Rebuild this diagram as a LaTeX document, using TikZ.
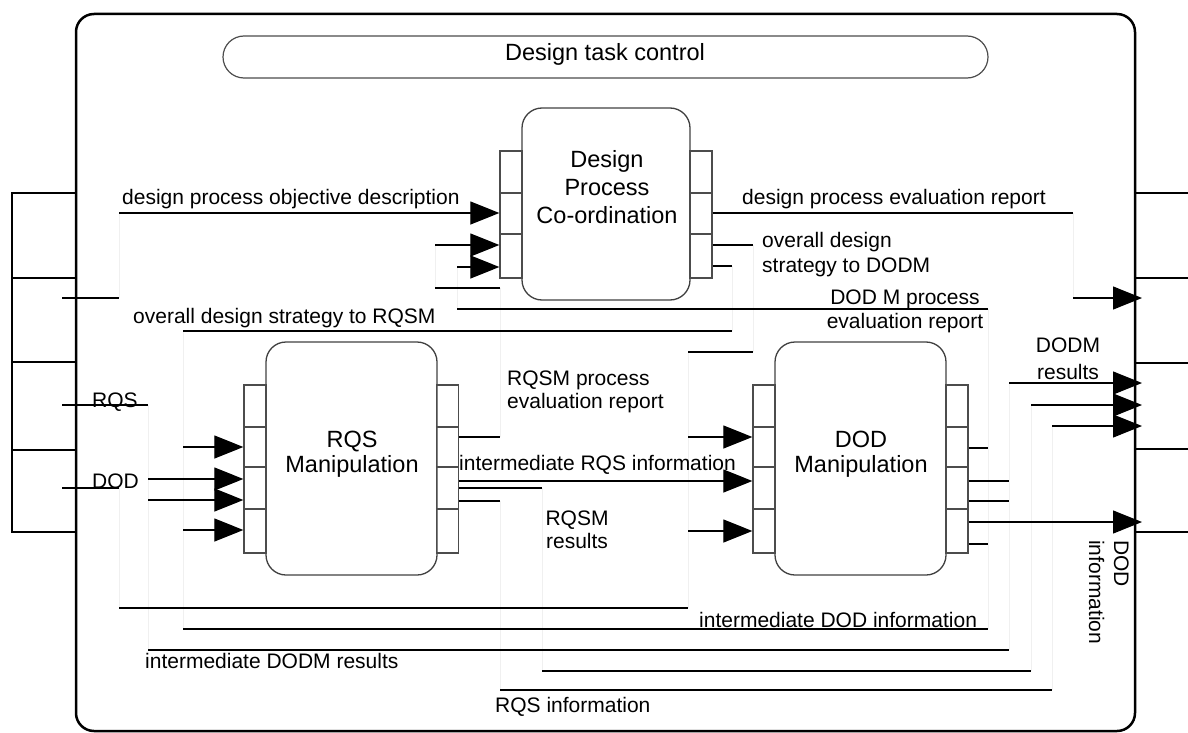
\documentclass[tikz,border=0pt]{standalone}
\usepackage{fontspec}
\setmainfont{Liberation Sans}
\usetikzlibrary{arrows.meta}
\begin{document}
\begin{tikzpicture}[x=1pt,y=-1pt,
  frame/.style={line width=2.5pt,rounded corners=18pt},
  tab/.style={line width=2.5pt},
  proc/.style={draw=black!75,line width=1.3pt,rounded corners=20pt,inner sep=0pt},
  port/.style={draw=black!70,line width=1.3pt,inner sep=0pt,minimum width=22pt},
  conn/.style={line width=1.2pt},
  arr/.style={conn,-{Triangle[length=29pt,width=23pt]}},
  faint/.style={draw=black!6,line width=1pt},
  lbl/.style={inner sep=0pt,font=\fontsize{21}{25}\selectfont},
  big/.style={inner sep=0pt,align=center,anchor=base},
]
\useasboundingbox (0,0) rectangle (1188,733);

% outer frame and tabs
\draw[frame] (76,14) rectangle (1135,731);
\draw[tab] (76,193) -- (12,193) -- (12,532) -- (76,532);
\draw[tab] (12,278) -- (76,278);
\draw[tab] (12,450) -- (76,450);
\draw[line width=1.2pt] (12,362) -- (76,362);
\foreach \yy in {193,278,363,449,532} \draw[tab] (1135,\yy) -- (1195,\yy);

% control bar
\node[draw=black!70,line width=1.2pt,rounded corners=21pt,minimum width=765pt,minimum height=42pt,inner sep=0pt] (ctrl) at (605.5,57) {};
\node[big,font=\fontsize{23.5}{28}\selectfont] (ctrlT) at (605,61) {Design task control};

% process boxes
\node[proc,minimum width=168pt,minimum height=192pt] (dpc) at (606,204) {};
\node[proc,minimum width=171pt,minimum height=233pt] (rqs) at (351.5,458.5) {};
\node[proc,minimum width=171pt,minimum height=233pt] (dod) at (860.5,458.5) {};

\node[big,font=\fontsize{23.5}{28}\selectfont] (dpcT) at (607,223) {Design\\Process\\Co-ordination};
\node[big,font=\fontsize{23.5}{25}\selectfont] (rqsT) at (352,472) {RQS\\Manipulation};
\node[big,font=\fontsize{23.5}{25}\selectfont] (dodT) at (861,472) {DOD\\Manipulation};

% port strips
\node[port,minimum height=127pt] (dpcL) at (511,214.5) {};
\node[port,minimum height=127pt] (dpcR) at (701,214.5) {};
\foreach \p in {dpcL,dpcR}{
  \draw[draw=black!70,line width=1.2pt] (\p.west |- 0,193) -- (\p.east |- 0,193);
  \draw[draw=black!70,line width=1.2pt] (\p.west |- 0,234) -- (\p.east |- 0,234);
}
\node[port,minimum height=168pt] (rqsL) at (255,469) {};
\node[port,minimum height=168pt] (rqsR) at (447.5,469) {};
\node[port,minimum height=168pt] (dodL) at (764,469) {};
\node[port,minimum height=168pt] (dodR) at (957,469) {};
\foreach \p in {rqsL,rqsR,dodL,dodR}{
  \foreach \yy in {427,467,509}
    \draw[draw=black!70,line width=1.2pt] (\p.west |- 0,\yy) -- (\p.east |- 0,\yy);
}

% junction coordinates
\coordinate (tA) at (62,298);   \coordinate (a1) at (119,298);  \coordinate (a2) at (119,213);
\coordinate (tB) at (62,405);   \coordinate (b1) at (148,405);  \coordinate (b2) at (148,650);
\coordinate (b3) at (148,479);  \coordinate (b4) at (148,500);
\coordinate (tC) at (62,488);   \coordinate (c1) at (119,488);  \coordinate (c2) at (119,608);
\coordinate (c3) at (688,608);  \coordinate (c4) at (688,352);  \coordinate (c5) at (753,352);
\coordinate (c6) at (753,245);  \coordinate (c7) at (688,437);  \coordinate (c8) at (688,531);
\coordinate (d1) at (732,266);  \coordinate (d2) at (732,331);  \coordinate (d3) at (183,331);
\coordinate (d4) at (183,629);  \coordinate (d5) at (988,629);  \coordinate (d6) at (183,447);
\coordinate (d7) at (183,530);
\coordinate (e1) at (988,309);  \coordinate (e2) at (457,309);  \coordinate (e3) at (457,267);
\coordinate (e4) at (988,448);  \coordinate (e5) at (988,544);
\coordinate (f1) at (1009,650); \coordinate (f2) at (1009,383); \coordinate (f3) at (1009,481);
\coordinate (f4) at (1009,501);
\coordinate (g1) at (542,488);  \coordinate (g2) at (542,671);  \coordinate (g3) at (1031,671);
\coordinate (g4) at (1031,405);
\coordinate (h1) at (500,501);  \coordinate (h2) at (500,690);  \coordinate (h3) at (1052,690);
\coordinate (h4) at (1052,426);
\coordinate (k1) at (500,437);  \coordinate (k2) at (500,288);  \coordinate (k3) at (435,288);
\coordinate (k4) at (435,245);
\coordinate (m1) at (1073,213); \coordinate (m2) at (1073,298);
\coordinate (o1) at (1142,298); \coordinate (o2) at (1142,383); \coordinate (o3) at (1142,405);
\coordinate (o4) at (1142,426); \coordinate (o5) at (1142,522);

% faint vertical runs
\draw[faint] (a1) -- (a2);
\draw[faint] (b1) -- (b2);
\draw[faint] (c1) -- (c2);
\draw[faint] (c4) -- (c3);
\draw[faint] (c6) -- (c5);
\draw[faint] (d1) -- (d2);
\draw[faint] (d3) -- (d4);
\draw[faint] (e1) -- (d5);
\draw[faint] (e3) -- (e2);
\draw[faint] (f2) -- (f1);
\draw[faint] (g1) -- (g2);
\draw[faint] (g4) -- (g3);
\draw[faint] (h1) -- (h2);
\draw[faint] (h4) -- (h3);
\draw[faint] (k2) -- (k1);
\draw[faint] (k4) -- (k3);
\draw[faint] (m1) -- (m2);

% horizontal connector runs
\draw[conn] (tA) -- (a1);
\draw[arr] (a2) -- (dpcL.west |- a2);
\draw[conn] (tB) -- (b1);
\draw[arr] (b3) -- (rqsL.west |- b3);
\draw[arr] (b4) -- (rqsL.west |- b4);
\draw[conn] (b2) -- (f1);
\draw[conn] (tC) -- (c1);
\draw[conn] (c2) -- (c3);
\draw[conn] (c4) -- (c5);
\draw[conn] (dpcR.east |- c6) -- (c6);
\draw[arr] (c7) -- (dodL.west |- c7);
\draw[arr] (c8) -- (dodL.west |- c8);
\draw[conn] (dpcR.east |- d1) -- (d1);
\draw[conn] (d2) -- (d3);
\draw[arr] (d6) -- (rqsL.west |- d6);
\draw[arr] (d7) -- (rqsL.west |- d7);
\draw[conn] (d4) -- (d5);
\draw[conn] (e1) -- (e2);
\draw[arr] (e3) -- (dpcL.west |- e3);
\draw[conn] (dodR.east |- e4) -- (e4);
\draw[conn] (dodR.east |- e5) -- (e5);
\draw[arr] (f2) -- (o2);
\draw[conn] (dodR.east |- f3) -- (f3);
\draw[conn] (dodR.east |- f4) -- (f4);
\draw[conn] (rqsR.east |- g1) -- (g1);
\draw[conn] (g2) -- (g3);
\draw[arr] (g4) -- (o3);
\draw[conn] (rqsR.east |- h1) -- (h1);
\draw[conn] (h2) -- (h3);
\draw[arr] (h4) -- (o4);
\draw[arr] (dodR.east |- o5) -- (o5);
\draw[conn] (rqsR.east |- k1) -- (k1);
\draw[conn] (k2) -- (k3);
\draw[arr] (k4) -- (dpcL.west |- k4);
\draw[arr] (rqsR.east |- 0,481) -- (dodL.west |- 0,481);
\draw[conn] (dpcR.east |- m1) -- (m1);
\draw[arr] (m2) -- (o1);

% labels
\node[lbl,anchor=base west] (l1) at (122,204) {design process objective description};
\node[lbl,anchor=base west] (l2) at (133,323) {overall design strategy to RQSM};
\node[lbl,anchor=base west] (l3) at (742,204) {design process evaluation report};
\node[lbl,anchor=base west,align=left] (l4) at (762,272) {overall design\\strategy to DODM};
\node[lbl,anchor=base,align=center,font=\fontsize{21}{24}\selectfont] (l5) at (905,328) {DOD M process\\evaluation report};
\node[lbl,anchor=base west,align=left,font=\fontsize{21}{23}\selectfont] (l6) at (507,408) {RQSM process\\evaluation report};
\node[lbl,anchor=base west] (l7) at (459,470) {intermediate RQS information};
\node[lbl,anchor=base,align=center,font=\fontsize{21}{23}\selectfont] (l8) at (577,548) {RQSM\\results};
\node[lbl,anchor=base,align=center,font=\fontsize{21}{27}\selectfont] (l9) at (1068,379) {DODM\\results};
\node[lbl,anchor=base west] (l10) at (92,407) {RQS};
\node[lbl,anchor=base west] (l11) at (92,488) {DOD};
\node[lbl,anchor=base west] (l12) at (699,627) {intermediate DOD information};
\node[lbl,anchor=base west] (l13) at (145,668) {intermediate DODM results};
\node[lbl,anchor=base west] (l14) at (495,712) {RQS information};
\node[lbl,rotate=-90,anchor=north west,align=left] (l15) at (1129,540) {DOD\\information};
\end{tikzpicture}
\end{document}
